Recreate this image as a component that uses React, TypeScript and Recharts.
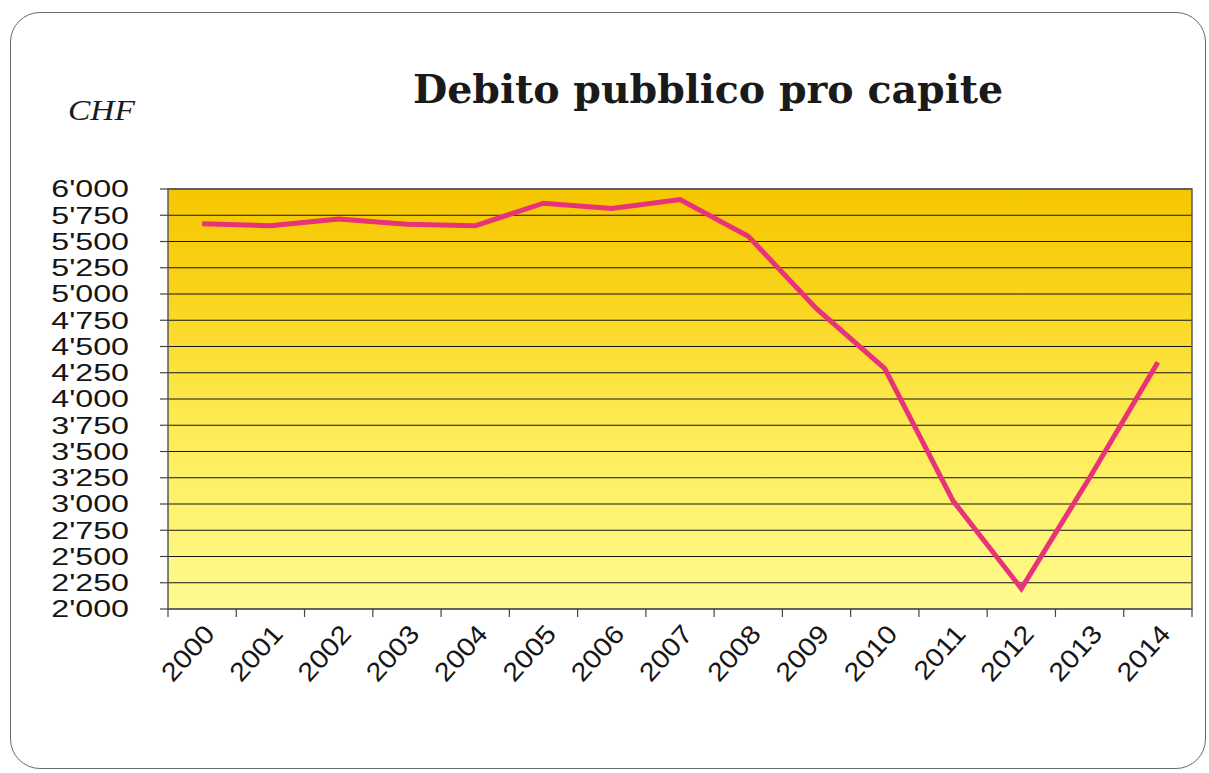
import React from 'react';
import { LineChart, Line, XAxis, YAxis, CartesianGrid, ReferenceArea } from 'recharts';

const years = ['2000', '2001', '2002', '2003', '2004', '2005', '2006', '2007', '2008', '2009', '2010', '2011', '2012', '2013', '2014'];
const debtPerCapita = [5670, 5650, 5715, 5665, 5650, 5865, 5815, 5900, 5550, 4860, 4290, 3030, 2195, 3250, 4350];
const yTicks = [2000, 2250, 2500, 2750, 3000, 3250, 3500, 3750, 4000, 4250, 4500, 4750, 5000, 5250, 5500, 5750, 6000];
const title = 'Debito pubblico pro capite';
const unitLabel = 'CHF';

const data = years.map((y, i) => ({ idx: i, year: y, value: debtPerCapita[i] }));
const boundaryTicks = years.map((_, i) => i - 0.5).concat([years.length - 0.5]);
const xDomain = [-0.5, years.length - 0.5];

const W = 1209;
const H = 773;
const MARGIN = { top: 189, right: 17, left: 0, bottom: 0 };
const Y_AXIS_W = 168;
const X_AXIS_H = 164;
const HALF_BAND = (W - MARGIN.right - Y_AXIS_W) / years.length / 2;

const fmt = (v: number) => {
  const s = String(v);
  return s.length > 3 ? s.slice(0, -3) + "'" + s.slice(-3) : s;
};

const FONT = 'Liberation Sans, Arial, sans-serif';

const YTick = (props: any) => {
  const { x, y, payload } = props;
  return (
    <g transform={`translate(${x},${y}) scale(1.4,1)`}>
      <text x={0} y={0} dy="0.36em" textAnchor="end" fontFamily={FONT} fontSize={23} fill="#151515">
        {fmt(payload.value)}
      </text>
    </g>
  );
};

const XTick = (props: any) => {
  const { x, y, payload } = props;
  const label = years[Math.round(payload.value + 0.5)] ?? '';
  if (!label) return <g />;
  return (
    <g transform={`translate(${x + HALF_BAND + 14},${y + 18}) rotate(-48) scale(1.12,1)`}>
      <text x={0} y={0} textAnchor="end" fontFamily={FONT} fontSize={26} fill="#151515">
        {label}
      </text>
    </g>
  );
};

export default function App() {
  return (
    <div style={{ position: 'absolute', left: 0, top: 0, width: W, height: H, background: '#fff', overflow: 'hidden' }}>
      <div
        style={{
          position: 'absolute',
          left: 10,
          top: 12,
          width: 1196,
          height: 757,
          border: '1.5px solid #6a6a6a',
          borderRadius: 30,
          boxSizing: 'border-box',
        }}
      />
      <div style={{ position: 'absolute', left: 0, top: 0 }}>
        <LineChart width={W} height={H} data={data} margin={MARGIN}>
          <defs>
            <linearGradient id="plotBg" x1="0" y1="0" x2="0" y2="1">
              <stop offset="0%" stopColor="#F6C700" />
              <stop offset="25%" stopColor="#F9D41C" />
              <stop offset="55%" stopColor="#FDEB52" />
              <stop offset="100%" stopColor="#FFFB90" />
            </linearGradient>
          </defs>
          <CartesianGrid horizontal vertical={false} stroke="#151515" strokeWidth={1.1} fill="url(#plotBg)" fillOpacity={1} />
          <XAxis
            dataKey="idx"
            type="number"
            domain={xDomain}
            ticks={boundaryTicks}
            interval={0}
            height={X_AXIS_H}
            axisLine={false}
            tickLine={{ stroke: '#444', strokeWidth: 1.2 }}
            tickSize={8}
            tickMargin={0}
            tick={XTick}
          />
          <YAxis
            type="number"
            domain={[2000, 6000]}
            ticks={yTicks}
            interval={0}
            width={Y_AXIS_W}
            axisLine={false}
            tickLine={{ stroke: '#444', strokeWidth: 1.2 }}
            tickSize={8}
            tickMargin={31}
            tick={YTick}
          />
          <ReferenceArea x1={xDomain[0]} x2={xDomain[1]} y1={2000} y2={6000} fill="none" stroke="#5a5a5a" strokeWidth={1.5} />
          <Line
            type="linear"
            dataKey="value"
            stroke="#E8327A"
            strokeWidth={5}
            dot={false}
            activeDot={false}
            isAnimationActive={false}
            strokeLinejoin="miter"
          />
        </LineChart>
      </div>
      <svg width={W} height={H} style={{ position: 'absolute', left: 0, top: 0, pointerEvents: 'none' }}>
        <text
          x={413}
          y={103}
          textLength={590}
          lengthAdjust="spacingAndGlyphs"
          fontFamily="DejaVu Serif, serif"
          fontWeight="bold"
          fontSize={40}
          fill="#1a1a1a"
        >
          {title}
        </text>
        <text
          x={68}
          y={120}
          textLength={67}
          lengthAdjust="spacingAndGlyphs"
          fontFamily="Liberation Serif, Times New Roman, serif"
          fontStyle="italic"
          fontSize={29}
          fill="#1a1a1a"
        >
          {unitLabel}
        </text>
      </svg>
    </div>
  );
}
